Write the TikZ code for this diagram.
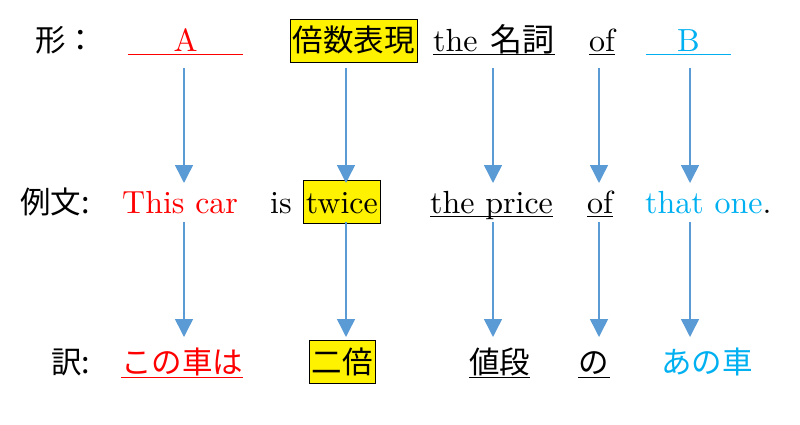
\documentclass[tikz,border=0pt]{standalone}
\usepackage{fontspec}
\usetikzlibrary{arrows.meta}
\setmainfont{lmroman10-regular.otf}
\newfontfamily\jp{Noto Sans CJK JP}
\definecolor{myred}{HTML}{FF0000}
\definecolor{myblue}{HTML}{00B0F0}
\definecolor{arrowblue}{HTML}{5B9BD5}
\begin{document}
\begin{tikzpicture}[x=1pt,y=-1pt,
  txt/.style={inner sep=0pt, anchor=base west, font=\fontsize{32}{36}\selectfont},
  jtxt/.style={txt, font=\fontsize{30.5}{36}\selectfont\jp},
  hl/.style={fill=yellow, draw=black, line width=0.8pt, inner ysep=0pt, inner xsep=2.5pt, text height=33pt, text depth=10pt},
  ul/.style={line width=1pt},
  arr/.style={draw=arrowblue, line width=1.5pt, -{Triangle[width=18pt,length=18pt]}}]
\useasboundingbox (0,0) rectangle (800,425);

% row 1
\node[jtxt] (form) at (35,52) {形：};
\node[txt, anchor=base, minimum width=115pt, text=myred] (A) at (185.5,52) {A};
\node[jtxt, hl] (bai) at (290,52) {倍数表現};
\node[txt] (noun) at (433,52) {the\hspace{13pt}{\jp 名詞}};
\node[txt] (of1) at (589,52) {of};
\node[txt, anchor=base, minimum width=85pt, text=myblue] (B) at (688.5,52) {B};

\draw[ul, myred] ([yshift=-3pt]A.base west) -- ([yshift=-3pt]A.base east);
\draw[ul] ([yshift=-3pt]noun.base west) -- ([yshift=-3pt]noun.base east);
\draw[ul] ([yshift=-3pt]of1.base west) -- ([yshift=-3pt]of1.base east);
\draw[ul, myblue] ([yshift=-3pt]B.base west) -- ([yshift=-3pt]B.base east);

% row 2
\node[jtxt] (ex) at (20,213) {例文:};
\node[txt, text=myred] (thiscar) at (122,213) {This car};
\node[txt] (is) at (270,213) {is};
\node[txt, hl] (twice) at (303,213) {twice};
\node[txt] (price) at (430,213) {the price};
\node[txt] (of2) at (587,213) {of};
\node[txt] (thatone) at (645,213) {\textcolor{myblue}{that one}.};

\draw[ul] ([yshift=-3pt]price.base west) -- ([yshift=-3pt]price.base east);
\draw[ul] ([yshift=-3pt]of2.base west) -- ([yshift=-3pt]of2.base east);

% row 3
\node[jtxt] (yaku) at (51,373) {訳:};
\node[jtxt, text=myred] (kono) at (121,373) {この車は};
\node[jtxt, hl] (nibai) at (309,373) {二倍};
\node[jtxt] (nedan) at (469,373) {値段};
\node[jtxt, minimum width=32pt] (no) at (578,373) {の};
\node[jtxt, text=myblue] (ano) at (661,373) {あの車};

\draw[ul, myred] ([yshift=-4pt]kono.base west) -- ([yshift=-4pt]kono.base east);
\draw[ul] ([yshift=-4pt]nedan.base west) -- ([yshift=-4pt]nedan.base east);
\draw[ul] ([yshift=-4pt]no.base west) -- ([yshift=-4pt]no.base east);

% arrow end points
\foreach \n/\x in {1/184, 2/346, 3/493, 4/599, 5/690} {
  \coordinate (t\n) at (\x,68);
  \coordinate (m\n) at (\x,183);
  \coordinate (u\n) at (\x,222);
  \coordinate (b\n) at (\x,337);
}
\foreach \n in {1,...,5} {
  \draw[arr] (t\n) -- (m\n);
  \draw[arr] (u\n) -- (b\n);
}
\end{tikzpicture}
\end{document}
